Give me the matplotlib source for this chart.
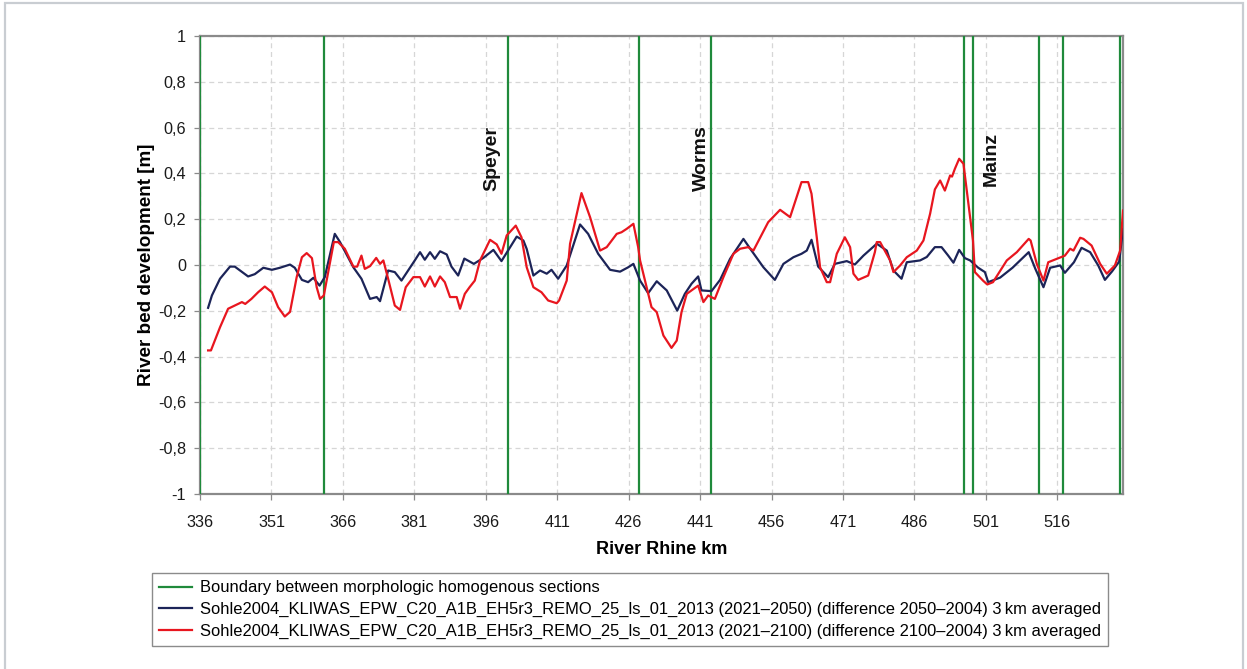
import matplotlib
matplotlib.use("Agg")
import matplotlib.pyplot as plt
from matplotlib.patches import Rectangle
from matplotlib.ticker import FuncFormatter

# River Rhine km positions and bed development [m]
km_2050 = [337.7, 338.5, 340.2, 342.3, 343.3, 346.1, 347.5, 349.3, 351.1, 352.8,
           354.9, 355.9, 357.4, 358.7, 359.8, 361.1, 362.2, 364.3, 365.4, 368.2,
           369.9, 371.7, 373.1, 373.8, 375.5, 376.9, 378.3, 379.7, 381.1, 382.2,
           383.2, 384.3, 385.3, 386.4, 387.8, 388.8, 390.2, 391.5, 393.5, 395.5,
           397.6, 399.3, 402.5, 403.9, 404.6, 406.0, 407.4, 408.8, 409.8, 411.2,
           413.0, 415.8, 417.5, 419.6, 422.1, 424.2, 425.9, 427.0, 428.4, 430.1,
           431.9, 434.0, 436.2, 437.8, 439.2, 440.6, 441.3, 443.4, 445.2, 447.3,
           450.1, 451.8, 454.3, 456.7, 458.5, 460.6, 462.3, 463.4, 464.4, 465.8,
           467.9, 469.3, 471.8, 473.5, 475.3, 478.1, 480.2, 481.6, 483.3, 484.4,
           487.2, 488.6, 490.3, 491.7, 493.1, 494.2, 495.4, 496.6, 497.7, 499.4,
           500.8, 501.5, 504.0, 506.6, 510.0, 511.4, 513.1, 514.5, 516.6, 517.6,
           519.5, 521.1, 522.9, 524.6, 526.0, 527.5, 529.0, 529.8]
dz_2050 = [-0.187, -0.133, -0.060, -0.007, -0.007, -0.050, -0.040, -0.012, -0.021, -0.012,
           0.002, -0.012, -0.065, -0.075, -0.056, -0.090, -0.053, 0.136, 0.100, -0.010,
           -0.060, -0.148, -0.140, -0.158, -0.024, -0.031, -0.068, -0.024, 0.020, 0.056,
           0.023, 0.056, 0.027, 0.060, 0.046, -0.007, -0.046, 0.028, 0.005, 0.031,
           0.066, 0.017, 0.124, 0.107, 0.070, -0.046, -0.024, -0.038, -0.021, -0.060,
           -0.002, 0.177, 0.136, 0.049, -0.021, -0.029, -0.010, 0.005, -0.068, -0.123,
           -0.071, -0.111, -0.199, -0.126, -0.082, -0.050, -0.111, -0.114, -0.065, 0.027,
           0.114, 0.063, -0.010, -0.065, 0.005, 0.034, 0.049, 0.063, 0.110, -0.007,
           -0.053, 0.005, 0.017, 0.002, 0.041, 0.093, 0.063, -0.024, -0.060, 0.012,
           0.020, 0.035, 0.078, 0.078, 0.041, 0.010, 0.066, 0.030, 0.020, -0.012,
           -0.031, -0.075, -0.055, -0.012, 0.056, -0.017, -0.097, -0.012, -0.002, -0.034,
           0.012, 0.075, 0.056, -0.002, -0.065, -0.028, 0.015, 0.158]

km_2100 = [337.7, 338.3, 340.2, 341.9, 343.3, 344.8, 345.5, 346.8, 348.2, 349.6,
           351.1, 352.4, 353.8, 354.9, 356.3, 357.4, 358.4, 359.5, 360.5, 361.2,
           362.0, 364.1, 365.0, 366.4, 368.2, 369.0, 369.9, 370.6, 371.7, 373.0,
           373.8, 374.5, 375.5, 376.9, 378.0, 379.2, 380.8, 382.2, 383.2, 384.3,
           385.3, 386.4, 387.4, 388.5, 389.9, 390.6, 391.6, 392.6, 393.7, 394.8,
           396.9, 398.3, 399.3, 400.4, 402.3, 403.5, 404.6, 406.0, 407.7, 409.1,
           410.9, 411.4, 413.0, 413.7, 416.1, 417.9, 420.0, 421.4, 423.5, 424.5,
           425.6, 427.0, 428.0, 428.4, 430.8, 431.9, 433.3, 435.0, 436.1, 437.1,
           438.2, 439.2, 440.6, 441.7, 442.7, 444.1, 445.9, 448.0, 449.4, 451.1,
           452.2, 455.3, 457.8, 459.9, 462.3, 463.7, 464.4, 465.5, 466.2, 467.6,
           468.3, 469.7, 471.4, 472.5, 473.2, 474.2, 476.3, 477.7, 478.1, 478.8,
           480.9, 481.6, 483.0, 484.4, 486.5, 487.9, 489.3, 490.3, 491.4, 492.4,
           493.5, 493.9, 494.5, 495.4, 496.3, 498.3, 498.7, 500.4, 501.3, 502.5,
           505.4, 507.5, 510.0, 510.4, 511.7, 513.1, 514.1, 515.9, 517.6, 518.7,
           519.4, 520.8, 521.5, 523.2, 525.0, 526.4, 528.1, 529.2, 529.8]
dz_2100 = [-0.373, -0.373, -0.272, -0.191, -0.177, -0.162, -0.170, -0.148, -0.119, -0.094,
           -0.119, -0.184, -0.225, -0.205, -0.053, 0.034, 0.052, 0.030, -0.097, -0.148,
           -0.133, 0.100, 0.100, 0.071, -0.007, -0.007, 0.041, -0.017, -0.005, 0.031,
           0.005, 0.020, -0.060, -0.177, -0.196, -0.097, -0.053, -0.053, -0.094, -0.050,
           -0.094, -0.050, -0.075, -0.140, -0.140, -0.191, -0.126, -0.097, -0.068, 0.020,
           0.110, 0.090, 0.049, 0.129, 0.172, 0.121, -0.010, -0.097, -0.119, -0.155,
           -0.167, -0.155, -0.068, 0.093, 0.314, 0.209, 0.063, 0.078, 0.136, 0.143,
           0.158, 0.180, 0.078, 0.020, -0.184, -0.206, -0.308, -0.362, -0.330, -0.206,
           -0.126, -0.111, -0.090, -0.162, -0.133, -0.148, -0.053, 0.049, 0.071, 0.078,
           0.063, 0.187, 0.241, 0.209, 0.362, 0.362, 0.311, 0.121, -0.010, -0.075,
           -0.075, 0.049, 0.121, 0.078, -0.038, -0.065, -0.046, 0.056, 0.100, 0.100,
           0.020, -0.031, -0.002, 0.034, 0.063, 0.107, 0.224, 0.330, 0.369, 0.325,
           0.391, 0.386, 0.420, 0.464, 0.442, 0.107, -0.031, -0.068, -0.085, -0.075,
           0.020, 0.056, 0.114, 0.107, 0.005, -0.068, 0.012, 0.027, 0.041, 0.071,
           0.063, 0.119, 0.114, 0.085, 0.005, -0.038, -0.002, 0.063, 0.238]

# Boundaries between morphologic homogenous sections (River Rhine km)
boundaries_km = [336.0, 362.1, 400.6, 428.2, 443.2, 496.5, 498.4, 512.2, 517.3, 529.2]

# Towns along the river
towns = ["Speyer", "Worms", "Mainz"]
towns_km = [397.2, 441.2, 502.2]

x_ticks = [336, 351, 366, 381, 396, 411, 426, 441, 456, 471, 486, 501, 516]
y_ticks = [-1, -0.8, -0.6, -0.4, -0.2, 0, 0.2, 0.4, 0.6, 0.8, 1]

labels = [
    "Boundary between morphologic homogenous sections",
    "Sohle2004_KLIWAS_EPW_C20_A1B_EH5r3_REMO_25_ls_01_2013 (2021\u20132050) (difference 2050\u20132004) 3\u2009km averaged",
    "Sohle2004_KLIWAS_EPW_C20_A1B_EH5r3_REMO_25_ls_01_2013 (2021\u20132100) (difference 2100\u20132004) 3\u2009km averaged",
]

GREEN = "#1f8a3b"
NAVY = "#1c2458"
RED = "#e8161f"

plt.rcParams["font.family"] = ["Liberation Sans", "DejaVu Sans"]

W, H = 1247, 669
fig = plt.figure(figsize=(W / 100, H / 100), dpi=100)
ax = fig.add_axes([200 / W, 1 - 494 / H, 923 / W, 458 / H])

# light frame around the whole graphic
fig.patches.append(Rectangle((5 / W, -0.01), 1238 / W, 1 - 3 / H + 0.01,
                             transform=fig.transFigure, fill=False,
                             edgecolor="#c9cdd2", linewidth=1.6, zorder=0))

ax.set_xlim(336, 529.8)
ax.set_ylim(-1, 1)
ax.set_xticks(x_ticks)
ax.set_yticks(y_ticks)
ax.yaxis.set_major_formatter(FuncFormatter(lambda v, p: f"{v:g}".replace(".", ",")))
ax.grid(True, color="#d6d6d6", linestyle=(0, (4, 3)), linewidth=0.9)
ax.set_axisbelow(True)
for s in ax.spines.values():
    s.set_color("#8a8a8a")
    s.set_linewidth(1.6)
ax.tick_params(axis="both", which="major", length=4, width=0.9, color="#8a8a8a",
               labelsize=11.7, labelcolor="#1a1a1a")
ax.tick_params(axis="x", pad=11)
ax.tick_params(axis="y", pad=6)

for i, b in enumerate(boundaries_km):
    ax.axvline(b, color=GREEN, linewidth=1.6, zorder=3,
               label=labels[0] if i == 0 else None)
ax.plot(km_2050, dz_2050, color=NAVY, linewidth=1.6, zorder=4, label=labels[1])
ax.plot(km_2100, dz_2100, color=RED, linewidth=1.6, zorder=4, label=labels[2])

for name, k in zip(towns, towns_km):
    ax.text(k, 0.465, name, rotation=90, ha="center", va="center",
            fontsize=14, fontweight="bold", color="#111111")

ax.set_xlabel("River Rhine km", fontsize=13, fontweight="bold", labelpad=8)
ax.set_ylabel("River bed development [m]", fontsize=13.6, fontweight="bold", labelpad=2)

handles, labs = ax.get_legend_handles_labels()
leg = fig.legend(handles, labs, loc="upper left",
                 bbox_to_anchor=(152 / W, 1 - 573 / H),
                 bbox_transform=fig.transFigure, frameon=True, fancybox=False,
                 fontsize=11.9, handlelength=2.0, handletextpad=0.45,
                 labelspacing=0.4, borderpad=0.45, borderaxespad=0)
leg.get_frame().set_edgecolor("#6e6e6e")
leg.get_frame().set_linewidth(1.0)

fig.savefig("out.png", dpi=100)
